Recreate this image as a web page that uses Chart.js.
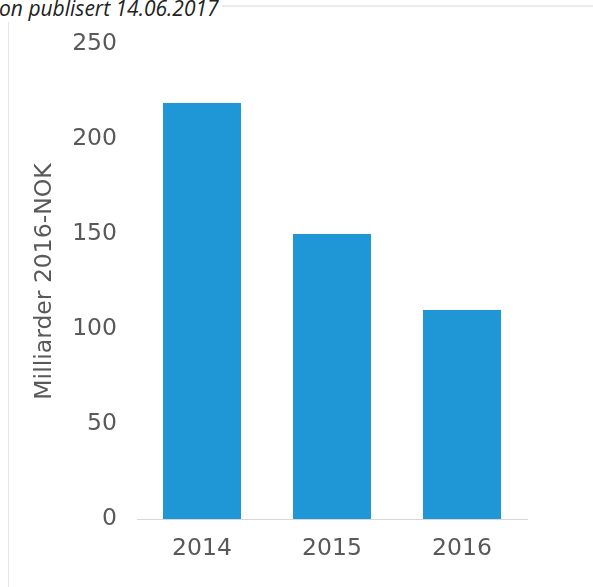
<!DOCTYPE html>
<html>
<head>
<meta charset="utf-8">
<script src="https://cdn.jsdelivr.net/npm/chart.js@4/dist/chart.umd.min.js"></script>
<style>
    html, body { margin: 0; padding: 0; background: #fff; }
    body { width: 593px; height: 587px; position: relative; overflow: hidden; }
    .frame {
        position: absolute; left: 8px; top: 5px; width: 600px; height: 600px;
        border-top: 2px solid #ebebeb; border-left: 1px solid #e6e6e6;
    }
    .source {
        position: absolute; left: -1px; top: -6px; padding-right: 3px;
        background: #fff; color: #222;
        font: italic 21px "Open Sans", sans-serif; white-space: nowrap;
    }
    #chart { position: absolute; left: 0; top: 0; }
</style>
</head>
<body>
<div class="frame"></div>
<div class="source">on publisert 14.06.2017</div>
<canvas id="chart" width="593" height="587"></canvas>
<script>
// Investments per year, billions of 2016 NOK
const years = ['2014', '2015', '2016'];
const investments = [219, 150, 110];
const yTicks = [0, 50, 100, 150, 200, 250];

const textColor = '#595959';
const axisFont = { family: 'DejaVu Sans', size: 23.5 };

const ctx = document.getElementById('chart').getContext('2d');

new Chart(ctx, {
    type: 'bar',
    data: {
        labels: years,
        datasets: [{
            label: 'Milliarder 2016-NOK',
            data: investments,
            backgroundColor: '#1f96d6',
            borderWidth: 0,
            barPercentage: 0.6,
            categoryPercentage: 1
        }]
    },
    options: {
        responsive: false,
        devicePixelRatio: 1,
        animation: false,
        layout: {
            padding: { left: 27, top: 44, right: 66, bottom: 0 }
        },
        scales: {
            x: {
                grid: { display: false, drawTicks: false },
                border: { display: true, color: '#dcd6d0', width: 1 },
                ticks: { color: textColor, font: axisFont, padding: 16 },
                afterFit: (scale) => { scale.height = 68; }
            },
            y: {
                min: 0,
                max: 250,
                grid: { display: false, drawTicks: false },
                border: { display: false },
                afterBuildTicks: (scale) => {
                    scale.ticks = yTicks.map(v => ({ value: v }));
                },
                ticks: { color: textColor, font: axisFont, padding: 20 },
                title: {
                    display: true,
                    text: 'Milliarder 2016-NOK',
                    color: textColor,
                    font: axisFont
                },
                afterFit: (scale) => { scale.width = 110; }
            }
        },
        plugins: {
            legend: { display: false },
            tooltip: { enabled: false }
        }
    }
});
</script>
</body>
</html>
